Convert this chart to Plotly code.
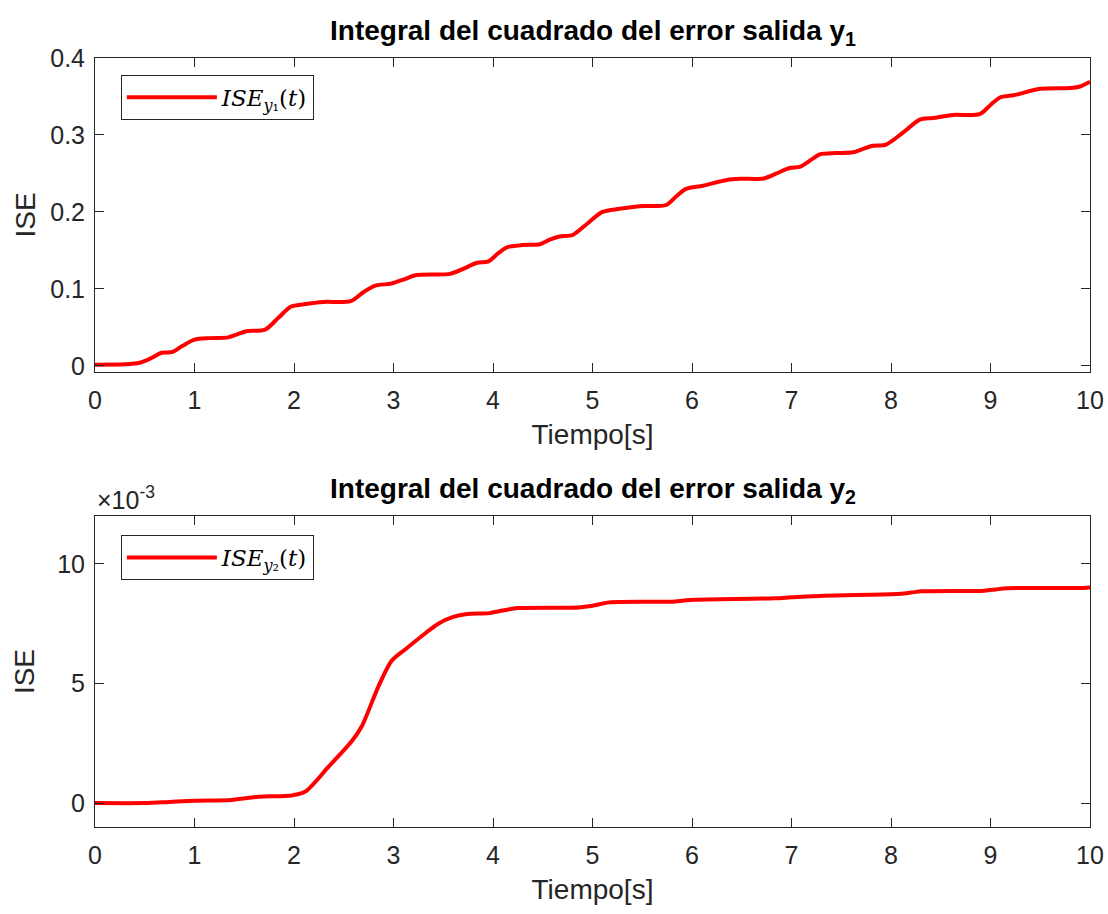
import plotly.graph_objects as go

# ---- data ----
t1 = [0, 0.3, 0.45, 0.55, 0.67, 0.78, 0.88, 1.0, 1.15, 1.34, 1.43, 1.52, 1.71, 1.84, 1.97, 2.1, 2.3, 2.57,
      2.7, 2.81, 2.98, 3.1, 3.23, 3.57, 3.7, 3.84, 3.95, 4.05, 4.14, 4.3, 4.47, 4.57, 4.67, 4.80, 4.95, 5.10,
      5.27, 5.47, 5.74, 5.84, 5.94, 6.11, 6.35, 6.5, 6.72, 6.85, 6.98, 7.09, 7.2, 7.29, 7.45, 7.62, 7.72,
      7.82, 7.95, 8.12, 8.29, 8.42, 8.62, 8.89, 9.0, 9.10, 9.23, 9.50, 9.80, 9.9, 10.0]
ise1 = [0.0015, 0.002, 0.004, 0.009, 0.017, 0.018, 0.026, 0.034, 0.036, 0.037, 0.041, 0.045, 0.047, 0.062,
        0.077, 0.080, 0.083, 0.084, 0.096, 0.104, 0.107, 0.112, 0.118, 0.1195, 0.126, 0.134, 0.1355, 0.146,
        0.154, 0.157, 0.158, 0.164, 0.168, 0.170, 0.185, 0.200, 0.204, 0.2075, 0.209, 0.220, 0.230, 0.234,
        0.2415, 0.243, 0.2435, 0.250, 0.257, 0.259, 0.268, 0.275, 0.2765, 0.2775, 0.282, 0.286, 0.2875,
        0.303, 0.320, 0.322, 0.326, 0.327, 0.339, 0.349, 0.3515, 0.360, 0.361, 0.363, 0.369]

t2 = [0, 0.5, 0.75, 1.0, 1.37, 1.64, 1.98, 2.11, 2.35, 2.58, 2.68, 2.85, 2.98, 3.12, 3.32, 3.45, 3.6, 3.74,
      3.96, 4.1, 4.25, 4.86, 5.0, 5.17, 5.8, 5.92, 6.03, 6.83, 7.0, 7.33, 8.05, 8.2, 8.31, 8.94, 9.05, 9.17,
      9.97, 10.0]
ise2 = [0, 0, 0.00005, 0.0001, 0.00013, 0.00026, 0.00032, 0.00047, 0.00153, 0.00258, 0.0032, 0.00489,
        0.00594, 0.00643, 0.0071, 0.0075, 0.00778, 0.0079, 0.00794, 0.00805, 0.00815, 0.00818, 0.00825,
        0.00839, 0.00842, 0.00847, 0.0085, 0.00856, 0.0086, 0.00867, 0.00874, 0.0088, 0.00885, 0.00888,
        0.00893, 0.00898, 0.0090, 0.00902]

x_ticks = [0, 1, 2, 3, 4, 5, 6, 7, 8, 9, 10]
y1_ticks = [0, 0.1, 0.2, 0.3, 0.4]
y1_labels = ["0", "0.1", "0.2", "0.3", "0.4"]
y2_ticks = [0, 0.005, 0.01]
y2_labels = ["0", "5", "10"]

titles = ["Integral del cuadrado del error salida y<sub>1</sub>",
          "Integral del cuadrado del error salida y<sub>2</sub>"]
legend_names = ["<i>ISE</i><sub><i>y</i>₁</sub>(<i>t</i>)",
                "<i>ISE</i><sub><i>y</i>₂</sub>(<i>t</i>)"]

FONT = "Liberation Sans, Arial, sans-serif"
AX = "#262626"
TICK = 25
LAB = 28

fig = go.Figure()
fig.add_trace(go.Scatter(x=t1, y=ise1, mode="lines", line=dict(color="#ff0000", width=4, shape="spline", smoothing=0.8),
                         name=legend_names[0], xaxis="x", yaxis="y", legend="legend"))
fig.add_trace(go.Scatter(x=t2, y=ise2, mode="lines", line=dict(color="#ff0000", width=4, shape="spline", smoothing=0.8),
                         name=legend_names[1], xaxis="x2", yaxis="y2", legend="legend2"))

axis_common = dict(showline=True, linecolor=AX, linewidth=1, mirror="ticks", ticks="inside", ticklen=9,
                   tickcolor=AX, showgrid=False, zeroline=False, automargin=False,
                   tickfont=dict(family=FONT, size=TICK, color=AX))

leg_common = dict(xanchor="left", yanchor="top", bgcolor="white", bordercolor=AX, borderwidth=1,
                  font=dict(family="DejaVu Serif, serif", size=23, color="black"), itemwidth=90,
                  tracegroupgap=0)

fig.update_layout(
    width=1108, height=914,
    margin=dict(l=95, r=18, t=58, b=87, autoexpand=False),
    paper_bgcolor="white", plot_bgcolor="white",
    showlegend=True,
    xaxis=dict(domain=[0, 1], anchor="y", range=[0, 10], tickvals=x_ticks, ticklabelstandoff=6,
               title=dict(text="Tiempo[s]", font=dict(family=FONT, size=LAB, color=AX), standoff=11), **axis_common),
    yaxis=dict(domain=[0.5917, 1.0], anchor="x", range=[-0.008, 0.4], tickvals=y1_ticks, ticktext=y1_labels,
               ticklabelstandoff=4,
               title=dict(text="ISE", font=dict(family=FONT, size=LAB, color=AX), standoff=6), **axis_common),
    xaxis2=dict(domain=[0, 1], anchor="y2", range=[0, 10], tickvals=x_ticks, ticklabelstandoff=6,
                title=dict(text="Tiempo[s]", font=dict(family=FONT, size=LAB, color=AX), standoff=11), **axis_common),
    yaxis2=dict(domain=[0, 0.4044], anchor="x2", range=[-0.001, 0.012], tickvals=y2_ticks, ticktext=y2_labels,
                ticklabelstandoff=4,
                title=dict(text="ISE", font=dict(family=FONT, size=LAB, color=AX), standoff=14), **axis_common),
    legend=dict(x=0.026, y=0.978, **leg_common),
    legend2=dict(x=0.026, y=0.3797, **leg_common),
    annotations=[
        dict(text="<b>" + titles[0] + "</b>", xref="paper", yref="paper", x=0.5, y=1.0, yshift=6,
             xanchor="center", yanchor="bottom", showarrow=False, font=dict(family=FONT, size=28, color="black")),
        dict(text="<b>" + titles[1] + "</b>", xref="paper", yref="paper", x=0.5, y=0.4044, yshift=6,
             xanchor="center", yanchor="bottom", showarrow=False, font=dict(family=FONT, size=28, color="black")),
        dict(text="×10<sup>-3</sup>", xref="paper", yref="paper", x=0.0, y=0.4044, yshift=0,
             xanchor="left", yanchor="bottom", showarrow=False, font=dict(family=FONT, size=TICK, color=AX)),
    ],
)

fig.write_html("out.html")
